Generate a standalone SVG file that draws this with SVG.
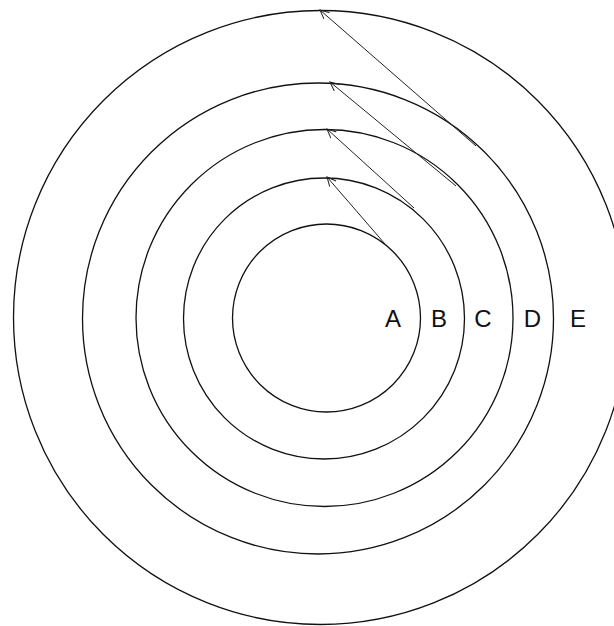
<svg xmlns="http://www.w3.org/2000/svg" width="614" height="626" viewBox="0 0 614 626">
<defs>
<style>
.ring{fill:none;stroke:#111;stroke-width:1.3}
.arr{fill:none;stroke:#222;stroke-width:1}
.lbl{font-family:"Liberation Sans","Open Sans",sans-serif;font-size:24px;fill:#111;text-anchor:middle}
</style>
<marker id="ah" viewBox="0 0 10 10" refX="9" refY="5" markerWidth="10" markerHeight="10" markerUnits="userSpaceOnUse" orient="auto">
<path d="M0,0.8 L9,5 L0,9.2" fill="none" stroke="#222" stroke-width="1"/>
</marker>
</defs>
<rect width="614" height="626" fill="#fff"/>
<g id="E"><circle class="ring" cx="320.5" cy="317.5" r="307"/><text class="lbl" x="578" y="327">E</text></g>
<g id="D"><circle class="ring" cx="318" cy="318.5" r="235.5"/><text class="lbl" x="532.5" y="327">D</text></g>
<g id="C"><circle class="ring" cx="324.5" cy="318" r="188.5"/><text class="lbl" x="483" y="327">C</text></g>
<g id="B"><circle class="ring" cx="324" cy="318.5" r="140.5"/><text class="lbl" x="439" y="327">B</text></g>
<g id="A"><circle class="ring" cx="326.5" cy="318" r="94"/><text class="lbl" x="393" y="327">A</text></g>
<g id="connectors">
<line class="arr" x1="385" y1="244" x2="327" y2="177" marker-end="url(#ah)"/>
<line class="arr" x1="414" y1="208" x2="327" y2="129" marker-end="url(#ah)"/>
<line class="arr" x1="456" y1="186" x2="330" y2="82" marker-end="url(#ah)"/>
<line class="arr" x1="476" y1="146" x2="320" y2="10" marker-end="url(#ah)"/>
</g>
</svg>
